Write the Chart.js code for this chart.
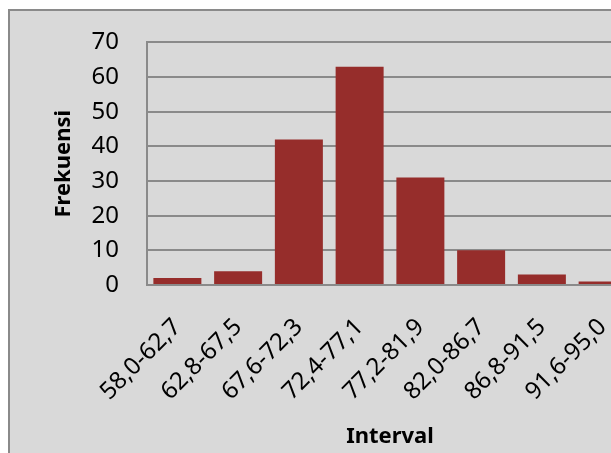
<!DOCTYPE html>
<html>
<head>
<meta charset="utf-8">
<script src="https://cdn.jsdelivr.net/npm/chart.js@4.4.1/dist/chart.umd.min.js"></script>
<style>
  html, body { margin: 0; padding: 0; background: #ffffff; overflow: hidden; width: 611px; height: 453px; }
  #frame { position: absolute; left: 8px; top: 9px; width: 700px; height: 500px; background: #d9d9d9; border: 2px solid #8a8a8a; box-sizing: border-box; }
  #histogram { position: absolute; left: 0; top: 0; }
</style>
</head>
<body>
<div id="frame"></div>
<canvas id="histogram" width="660" height="453"></canvas>
<script>
// data
const intervals = ['58,0-62,7', '62,8-67,5', '67,6-72,3', '72,4-77,1', '77,2-81,9', '82,0-86,7', '86,8-91,5', '91,6-95,0'];
const frekuensi = [2, 4, 42, 63, 31, 10, 3, 1];
const yTicks = [0, 10, 20, 30, 40, 50, 60, 70];

const fontFamily = '"Noto Sans", "Open Sans", sans-serif';

function createHistogram(canvasId) {
  const ctx = document.getElementById(canvasId).getContext('2d');
  return new Chart(ctx, {
    type: 'bar',
    data: {
      labels: intervals,
      datasets: [{
        label: 'Frekuensi',
        data: frekuensi,
        backgroundColor: '#962d2b',
        borderWidth: 0,
        barPercentage: 0.79,
        categoryPercentage: 1
      }]
    },
    options: {
      responsive: false,
      animation: false,
      layout: { padding: { left: 0, top: 42, right: 27, bottom: 0 } },
      plugins: { legend: { display: false }, tooltip: { enabled: false } },
      scales: {
        x: {
          grid: { display: false, drawTicks: false },
          border: { display: true, color: '#8a8a8a', width: 2 },
          ticks: {
            autoSkip: false,
            maxRotation: 45,
            minRotation: 45,
            padding: 28,
            color: '#000',
            font: { family: fontFamily, size: 24 }
          },
          title: {
            display: true,
            text: 'Interval',
            color: '#000',
            padding: { top: 0, bottom: 3 },
            font: { family: fontFamily, size: 22, weight: 'bold' }
          },
          afterFit: (scale) => { scale.height = 453 - 285; }
        },
        y: {
          min: 0,
          max: 70,
          afterBuildTicks: (scale) => { scale.ticks = yTicks.map(v => ({ value: v })); },
          grid: { color: '#8a8a8a', lineWidth: 2, drawTicks: false },
          border: { display: true, color: '#8a8a8a', width: 2 },
          ticks: {
            padding: 28,
            color: '#000',
            font: { family: fontFamily, size: 24 }
          },
          title: {
            display: true,
            text: 'Frekuensi',
            color: '#000',
            padding: { top: 51, bottom: 0 },
            font: { family: fontFamily, size: 22, weight: 'bold' }
          },
          afterFit: (scale) => { scale.width = 147; }
        }
      }
    }
  });
}

createHistogram('histogram');
</script>
</body>
</html>
